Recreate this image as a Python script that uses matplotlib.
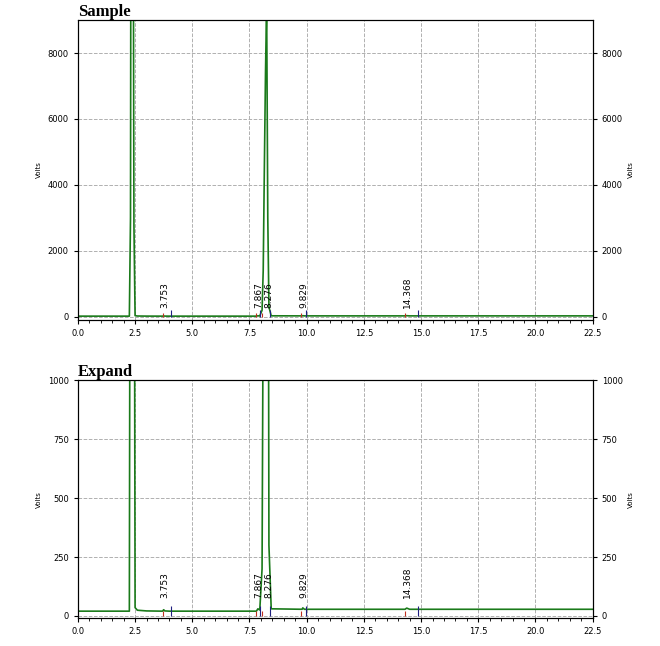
import matplotlib.pyplot as plt

# chromatogram trace (minutes, signal)
times = [0.0, 2.25, 2.30, 2.33, 2.40, 2.45, 2.50, 2.6, 3.0, 3.7, 3.75, 3.8, 4.0, 7.8, 7.87, 7.95,
         8.05, 8.10, 8.15, 8.20, 8.25, 8.30, 8.35, 8.45, 9.8, 9.83, 9.9, 14.3, 14.37, 14.5, 22.5]
signal = [20, 20, 3000, 20000, 20000, 2800, 35, 24, 21, 20, 26, 21, 20, 20, 30, 25,
          200, 1400, 4500, 7400, 9500, 3000, 300, 30, 28, 34, 28, 28, 33, 28, 28]

peak_labels = ["3.753", "7.867", "8.276", "9.829", "14.368"]
peak_times = [3.753, 7.867, 8.276, 9.829, 14.368]
peak_starts = [3.7, 7.8, 8.05, 9.75, 14.3]
peak_ends = [4.05, 7.95, 8.4, 9.95, 14.85]

fig = plt.figure(figsize=(6.6, 6.46), dpi=100)
panels = [("Sample", [0.118, 0.505, 0.78, 0.464], 9000, [0, 2000, 4000, 6000, 8000], 220, 260),
          ("Expand", [0.118, 0.043, 0.78, 0.368], 1000, [0, 250, 500, 750, 1000], 40, 75)]

for title, rect, ymax, yt, mark_h, txt_y in panels:
    ax = fig.add_axes(rect)
    ax.plot(times, signal, color="#1a7a1a", lw=1.2)
    for s, e in zip(peak_starts, peak_ends):
        ax.vlines(s, 0, mark_h * 0.5, color="#c03020", lw=0.8)
        ax.vlines(e, 0, mark_h, color="#202080", lw=0.8)
    for t, lab in zip(peak_times, peak_labels):
        ax.text(t + 0.05, txt_y, lab, rotation=90, fontsize=6.5, ha="center", va="bottom")
    ax.set_xlim(0, 22.5)
    ax.set_ylim(-ymax * 0.01, ymax)
    ax.set_xticks([0, 2.5, 5, 7.5, 10, 12.5, 15, 17.5, 20, 22.5])
    ax.set_xticklabels(["0.0", "2.5", "5.0", "7.5", "10.0", "12.5", "15.0", "17.5", "20.0", "22.5"])
    ax.set_xticks([i * 0.5 for i in range(46)], minor=True)
    ax.set_yticks(yt)
    ax.tick_params(labelsize=6, direction="out", length=3)
    ax.tick_params(which="minor", length=2)
    ax.grid(True, ls="--", color="#b0b0b0", lw=0.7)
    ax.set_ylabel("Volts", fontsize=5)
    axr = ax.twinx()
    axr.set_ylim(ax.get_ylim())
    axr.set_yticks(yt)
    axr.tick_params(labelsize=6, length=3)
    axr.set_ylabel("Volts", fontsize=5)
    ax.text(0.0, 1.0, title, transform=ax.transAxes, family="Liberation Serif",
            fontweight="bold", fontsize=12, va="bottom", ha="left")

fig.savefig("out.png")
